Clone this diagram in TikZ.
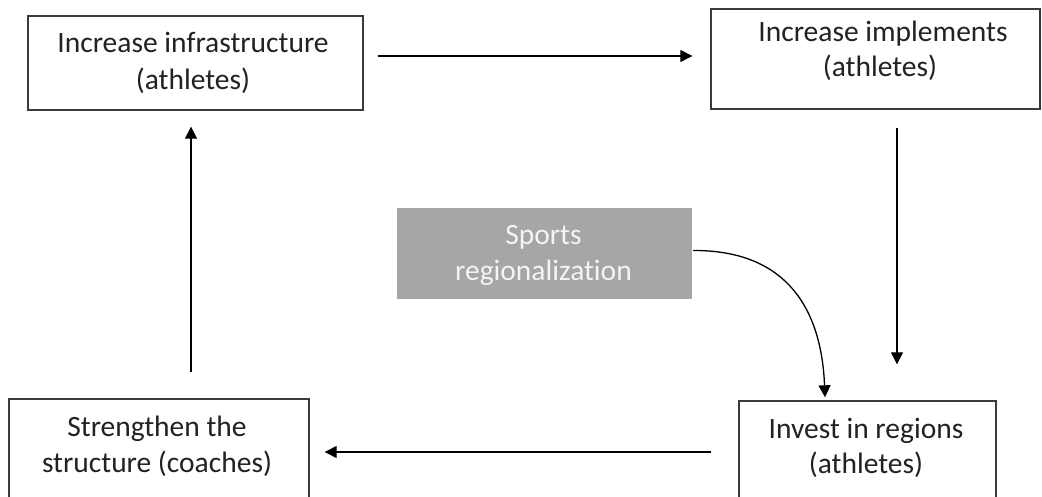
\documentclass[tikz,border=0pt]{standalone}
\usepackage{fontspec}
\setmainfont{Carlito}[Ligatures={NoCommon,NoRequired,NoContextual}]
\usetikzlibrary{arrows.meta,calc}
\definecolor{boxline}{HTML}{3A3A3A}
\definecolor{ink}{HTML}{222222}
\definecolor{greyfill}{HTML}{A6A6A6}
\definecolor{paletext}{HTML}{F4F4F4}
\begin{document}
\begin{tikzpicture}[x=1pt,y=-1pt,
  box/.style={draw=boxline, line width=1.4pt, rectangle, inner sep=0pt},
  greybox/.style={fill=greyfill, draw=none, rectangle, inner sep=0pt},
  words/.style={anchor=base, inner sep=0pt, text=ink, font=\fontsize{29.5}{36}\selectfont},
  palewords/.style={words, text=paletext},
  flow/.style={draw=black, line width=1.3pt, -{Triangle[length=12pt,width=12pt]}}]
\clip (0,0) rectangle (1042,497);
\fill[white] (0,0) rectangle (1042,497);

% boxes
\node[box, minimum width=335pt, minimum height=94pt] (infra) at (195.5,63) {};
\node[box, minimum width=329pt, minimum height=100pt] (impl) at (875.5,59) {};
\node[greybox, minimum width=295pt, minimum height=91pt] (region) at (544.5,253.5) {};
\node[box, minimum width=257pt, minimum height=106pt] (invest) at (867.5,454) {};
\node[box, minimum width=300pt, minimum height=108pt] (coach) at (159,453) {};

% box texts
\node[words] (infra1) at (193,53) {Increase infrastructure};
\node[words] (infra2) at (193,90) {(athletes)};
\node[words] (impl1) at (883,42) {Increase implements};
\node[words] (impl2) at (880,77) {(athletes)};
\node[palewords] (region1) at (543.5,245) {Sports};
\node[palewords] (region2) at (543.5,280) {regionalization};
\node[words] (coach1) at (157,436) {Strengthen the};
\node[words] (coach2) at (157,472) {structure (coaches)};
\node[words] (invest1) at (866,438) {Invest in regions};
\node[words] (invest2) at (866,473) {(athletes)};

% cycle connectors
\draw[flow] ($(infra.east)+(14,-7)$) -- ($(impl.west)+(-18,-3)$);
\draw[flow] ($(impl.south)+(21.5,18)$) -- ($(invest.north)+(29.5,-36)$);
\draw[flow] ($(invest.west)+(-27,-2)$) -- ($(coach.east)+(15,-1)$);
\draw[flow] ($(coach.north)+(32,-26)$) -- ($(infra.south)+(-4.5,16)$);

% regionalization feeds the investment box
\draw[flow] ($(region.east)+(1,-3)$) .. controls (795,250) and (822,320) .. ($(invest.north)+(-42.5,-3)$);
\end{tikzpicture}
\end{document}
